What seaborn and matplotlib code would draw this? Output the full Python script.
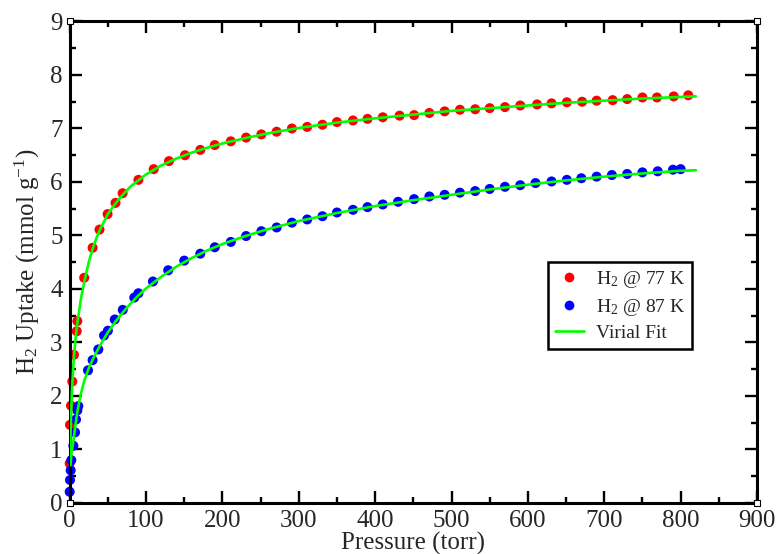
import numpy as np
import pandas as pd
import matplotlib
matplotlib.use("Agg")
import matplotlib.pyplot as plt
from matplotlib.lines import Line2D
import seaborn as sns

# H2 isotherm at 77 K: pressure (torr) and uptake (mmol/g)
p_77 = [0, 0.4, 1.7, 3.4, 5.6, 9.2, 10, 19, 30, 39, 49.6, 60, 69.3, 90, 110, 130,
        151, 171, 190, 211, 231, 251, 271, 291, 311, 331, 350, 371, 390, 410, 432,
        451, 471, 491, 511, 531, 550, 570, 590, 612, 631, 651, 671, 690, 711, 730,
        750, 769, 791, 810]
u_77 = [0.74, 1.46, 1.82, 2.27, 2.77, 3.21, 3.40, 4.21, 4.77, 5.11, 5.40, 5.61, 5.79,
        6.04, 6.24, 6.39, 6.50, 6.60, 6.69, 6.76, 6.83, 6.89, 6.94, 7.00, 7.03, 7.07,
        7.12, 7.15, 7.18, 7.21, 7.24, 7.25, 7.29, 7.32, 7.35, 7.36, 7.38, 7.40, 7.43,
        7.45, 7.47, 7.49, 7.50, 7.52, 7.53, 7.55, 7.58, 7.58, 7.60, 7.62]

# H2 isotherm at 87 K
p_87 = [0, 0.4, 1.3, 2.1, 4.8, 7.0, 8.3, 10, 11.3, 24, 30, 37.5, 45, 50, 59, 69.5,
        84.6, 90, 109, 129, 150, 171, 190, 211, 231, 251, 271, 291, 311, 331, 350,
        371, 390, 410, 430, 451, 471, 491, 511, 531, 550, 570, 590, 610, 631, 651,
        670, 690, 710, 730, 750, 770, 790, 800]
u_87 = [0.21, 0.43, 0.61, 0.80, 1.07, 1.32, 1.56, 1.73, 1.81, 2.48, 2.67, 2.87, 3.13,
        3.22, 3.43, 3.61, 3.84, 3.92, 4.14, 4.35, 4.53, 4.66, 4.78, 4.88, 4.99, 5.08,
        5.15, 5.24, 5.30, 5.36, 5.43, 5.48, 5.53, 5.58, 5.63, 5.68, 5.73, 5.76, 5.80,
        5.83, 5.87, 5.91, 5.94, 5.98, 6.01, 6.04, 6.07, 6.10, 6.13, 6.15, 6.18, 6.20,
        6.23, 6.24]

# Virial fit curves
fit_p_77 = [0.5, 1.5, 3, 5, 7.5, 10, 15, 20, 25, 30, 35, 40, 50, 60, 70, 80, 90, 100,
            120, 140, 160, 180, 200, 230, 260, 300, 350, 400, 450, 500, 550, 600, 650,
            700, 750, 800, 820]
fit_u_77 = [0.90, 1.50, 2.12, 2.62, 3.05, 3.36, 3.84, 4.19, 4.50, 4.75, 4.95, 5.12,
            5.40, 5.60, 5.77, 5.92, 6.03, 6.14, 6.31, 6.44, 6.55, 6.64, 6.72, 6.82,
            6.91, 7.01, 7.11, 7.19, 7.26, 7.33, 7.38, 7.43, 7.48, 7.52, 7.56, 7.59, 7.60]

fit_p_87 = [1, 2.5, 5, 7, 10, 14, 19, 25, 30, 40, 50, 60, 70, 80, 90, 100, 120, 140,
            160, 180, 200, 230, 260, 300, 350, 400, 450, 500, 550, 600, 650, 700, 750,
            800, 820]
fit_u_87 = [0.70, 0.95, 1.17, 1.40, 1.70, 2.00, 2.28, 2.52, 2.68, 2.95, 3.19, 3.39,
            3.57, 3.73, 3.88, 4.01, 4.23, 4.42, 4.58, 4.72, 4.84, 4.99, 5.12, 5.27,
            5.42, 5.55, 5.66, 5.76, 5.86, 5.95, 6.03, 6.10, 6.16, 6.21, 6.22]

x_ticks = list(range(0, 901, 100))
y_ticks = list(range(0, 10))

sns.set_style("ticks")
plt.rcParams["font.family"] = ["Liberation Serif", "DejaVu Serif"]
plt.rcParams["mathtext.fontset"] = "custom"
plt.rcParams["mathtext.rm"] = "Liberation Serif"
plt.rcParams["mathtext.it"] = "Liberation Serif:italic"

fig = plt.figure(figsize=(7.76, 5.54), dpi=100)
ax = fig.add_axes([0.0898, 0.0921, 0.8857, 0.8691])

red, blue, green = "#ff0000", "#0000ff", "#00ff00"

df77 = pd.DataFrame({"p": p_77, "u": u_77})
df87 = pd.DataFrame({"p": p_87, "u": u_87})
fit77 = pd.DataFrame({"p": fit_p_77, "u": fit_u_77})
fit87 = pd.DataFrame({"p": fit_p_87, "u": fit_u_87})

sns.scatterplot(data=df77, x="p", y="u", color=red, s=52, edgecolor="none",
                ax=ax, zorder=2, clip_on=False)
sns.scatterplot(data=df87, x="p", y="u", color=blue, s=52, edgecolor="none",
                ax=ax, zorder=2, clip_on=False)
sns.lineplot(data=fit77, x="p", y="u", color=green, lw=1.9, ax=ax, zorder=3,
             sort=False)
sns.lineplot(data=fit87, x="p", y="u", color=green, lw=1.9, ax=ax, zorder=3,
             sort=False)

ax.set_xlim(0, 900)
ax.set_ylim(0, 9)
ax.set_xticks(x_ticks)
ax.set_yticks(y_ticks)
ax.set_xticks(np.arange(50, 900, 100), minor=True)
ax.set_yticks(np.arange(0.5, 9, 1.0), minor=True)
ax.tick_params(which="both", direction="in", top=True, right=True,
               labelsize=18, width=1.7, color="black")
ax.tick_params(which="major", length=8.5, pad=5)
ax.tick_params(which="minor", length=4.3)
for s in ax.spines.values():
    s.set_visible(True)
    s.set_linewidth(2.2)
    s.set_color("black")

ax.set_xlabel("Pressure (torr)", fontsize=18, labelpad=0)
ax.set_ylabel(r"H$_2$ Uptake (mmol g$^{-1}$)", fontsize=18, labelpad=6)

# small open squares at the frame corners
ax.plot([0, 1, 0, 1], [0, 0, 1, 1], ls="none", marker="s", ms=4.5,
        mfc="white", mec="black", mew=0.8, transform=ax.transAxes,
        clip_on=False, zorder=10)

handles = [
    Line2D([], [], ls="none", marker="o", ms=7.0, mfc=red, mec="none",
           label=r"H$_2$ @ 77 K"),
    Line2D([], [], ls="none", marker="o", ms=7.0, mfc=blue, mec="none",
           label=r"H$_2$ @ 87 K"),
    Line2D([], [], color=green, lw=1.9, label="Virial Fit"),
]
leg = ax.legend(handles=handles, loc="upper left", bbox_to_anchor=(0.696, 0.50),
                borderaxespad=0, fontsize=14, frameon=True, fancybox=False,
                edgecolor="black", framealpha=1, handlelength=1.5,
                handletextpad=0.6, labelspacing=0.35, borderpad=0.35)
leg.get_frame().set_linewidth(1.8)

fig.savefig("out.png", dpi=100)
